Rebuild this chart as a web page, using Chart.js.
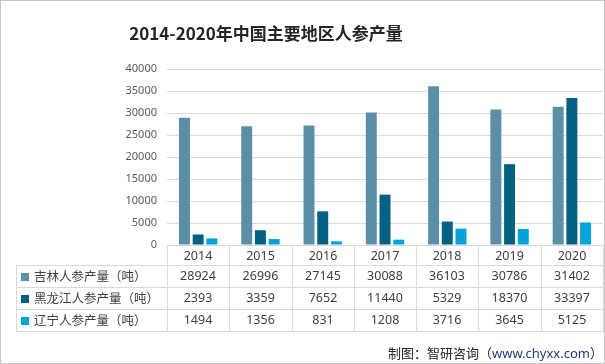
<!DOCTYPE html>
<html>
<head>
<meta charset="utf-8">
<script src="https://cdn.jsdelivr.net/npm/chart.js@4/dist/chart.umd.min.js"></script>
<style>
  html, body { margin: 0; padding: 0; background: #fff; }
  #wrap {
    position: relative; width: 605px; height: 364px; overflow: hidden;
    font-family: "Noto Sans", "Noto Sans CJK SC", sans-serif; color: #404040;
  }
  #frame { position: absolute; left: 0; top: 0; width: 603px; height: 362px; border: 1px solid #c8c8c8; pointer-events: none; }
  #title {
    position: absolute; left: 0; top: 20px; width: 532px; text-align: center;
    font: bold 17px "Noto Sans CJK SC", sans-serif; color: #262626; line-height: 26px;
  }
  #table { position: absolute; left: 0; top: 0; width: 605px; height: 364px; }
  .ln { position: absolute; background: #d9d9d9; }
  .cell { position: absolute; text-align: center; font-size: 12.5px; line-height: 22px; height: 22px; color: #404040; }
  .lab { position: absolute; font: 12.5px "Noto Sans CJK SC", sans-serif; line-height: 22px; height: 22px; color: #404040; white-space: nowrap; }
  .mk { display: inline-block; width: 8px; height: 8px; margin-right: 5px; vertical-align: 0px; }
  #foot {
    position: absolute; right: 2px; top: 342px;
    font: 13px "Noto Sans CJK SC", sans-serif; color: #262626; line-height: 22px;
  }
  #foot span { color: #1f3a7a; font-family: "Noto Sans", sans-serif; }
</style>
</head>
<body>
<div id="wrap">
  <canvas id="c" width="605" height="364"></canvas>
  <div id="title">2014-2020年中国主要地区人参产量</div>
  <div id="table"></div>
  <div id="foot">制图：智研咨询（<span>www.chyxx.com</span>）</div>
  <div id="frame"></div>
</div>
<script>
// categories and series
const years = ["2014", "2015", "2016", "2017", "2018", "2019", "2020"];
const jilin = [28924, 26996, 27145, 30088, 36103, 30786, 31402];
const heilongjiang = [2393, 3359, 7652, 11440, 5329, 18370, 33397];
const liaoning = [1494, 1356, 831, 1208, 3716, 3645, 5125];
const seriesNames = ["吉林人参产量（吨）", "黑龙江人参产量（吨）", "辽宁人参产量（吨）"];
const seriesColors = ["#5b8fa8", "#006183", "#00a3da"];
const yTicks = [0, 5000, 10000, 15000, 20000, 25000, 30000, 35000, 40000];

const seriesData = [jilin, heilongjiang, liaoning];

const chart = new Chart(document.getElementById("c"), {
  type: "bar",
  data: {
    labels: years,
    datasets: seriesData.map((d, i) => ({
      label: seriesNames[i],
      data: d,
      backgroundColor: seriesColors[i],
      categoryPercentage: 0.66,
      barPercentage: 0.8
    }))
  },
  options: {
    responsive: false,
    animation: false,
    devicePixelRatio: 1,
    layout: { padding: { left: 0, right: 2, top: 69, bottom: 119 } },
    plugins: { legend: { display: false }, title: { display: false }, tooltip: { enabled: false } },
    scales: {
      x: { display: false },
      y: {
        min: 0,
        max: 40000,
        afterBuildTicks: (s) => { s.ticks = yTicks.map(v => ({ value: v })); },
        afterFit: (s) => { s.width = 167; },
        ticks: {
          padding: 10,
          color: "#595959",
          font: { family: "Noto Sans", size: 11 },
          callback: (v) => String(v)
        },
        grid: { color: "#d9d9d9", drawTicks: false },
        border: { display: false }
      }
    }
  }
});

// data table under the plot, aligned to the category scale
(function buildTable() {
  const tbl = document.getElementById("table");
  const area = chart.chartArea;
  const colW = (area.right - area.left) / years.length;
  const bounds = [];
  for (let i = 0; i <= years.length; i++) bounds.push(Math.round(area.left + i * colW));
  const axisY = Math.round(area.bottom);
  const rowTop = axisY + 20, rowH = 22, nRows = seriesData.length;
  const tableLeft = 16, right = bounds[bounds.length - 1];

  function line(x, y, w, h) {
    const d = document.createElement("div");
    d.className = "ln";
    d.style.left = x + "px"; d.style.top = y + "px";
    d.style.width = w + "px"; d.style.height = h + "px";
    tbl.appendChild(d);
  }
  function cell(text, x, y, w) {
    const d = document.createElement("div");
    d.className = "cell";
    d.style.left = x + "px"; d.style.top = y + "px"; d.style.width = w + "px";
    d.textContent = text;
    tbl.appendChild(d);
  }

  bounds.forEach(b => line(b, axisY, 1, rowTop + nRows * rowH - axisY + 1));
  line(tableLeft, rowTop, 1, nRows * rowH + 1);
  for (let r = 0; r <= nRows; r++) line(tableLeft, rowTop + r * rowH, right - tableLeft + 1, 1);

  years.forEach((y, i) => cell(y, bounds[i], axisY, bounds[i + 1] - bounds[i]));
  seriesData.forEach((d, r) => {
    const top = rowTop + r * rowH;
    const lab = document.createElement("div");
    lab.className = "lab";
    lab.style.left = "21px"; lab.style.top = top + "px";
    lab.innerHTML = '<span class="mk" style="background:' + seriesColors[r] + '"></span>' + seriesNames[r];
    tbl.appendChild(lab);
    d.forEach((v, i) => cell(String(v), bounds[i], top, bounds[i + 1] - bounds[i]));
  });
})();
</script>
</body>
</html>
